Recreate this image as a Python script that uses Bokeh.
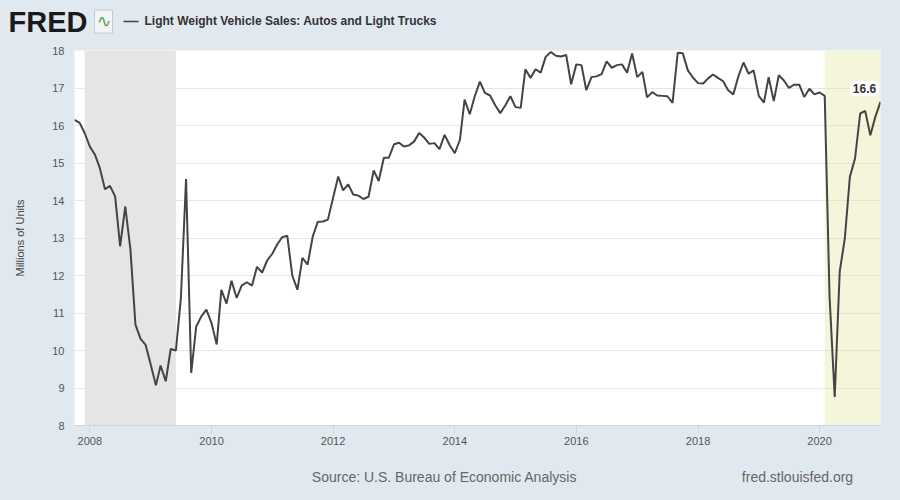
import pandas as pd
from bokeh.plotting import figure
from bokeh.layouts import column
from bokeh.models import (Label, FixedTicker, DatetimeTickFormatter, Range1d,
                          GlobalInlineStyleSheet)
from bokeh.embed import file_html
from bokeh.resources import INLINE

# ---- data ----
start_month = "2007-10-01"
sales = [
    16.15, 16.07, 15.80, 15.44, 15.22, 14.87, 14.30, 14.39, 14.11, 12.78,
    13.84, 12.69, 10.69, 10.31, 10.15, 9.62, 9.07, 9.60, 9.18, 10.04,
    10.00, 11.40, 14.57, 9.40, 10.64, 10.91, 11.09, 10.73, 10.16, 11.62,
    11.25, 11.86, 11.40, 11.73, 11.82, 11.73, 12.23, 12.08, 12.40, 12.58,
    12.84, 13.02, 13.06, 12.00, 11.62, 12.47, 12.29, 13.04, 13.43, 13.44,
    13.49, 14.07, 14.64, 14.27, 14.43, 14.16, 14.13, 14.04, 14.10, 14.80,
    14.52, 15.14, 15.14, 15.50, 15.54, 15.44, 15.47, 15.57, 15.80, 15.68,
    15.51, 15.53, 15.37, 15.75, 15.48, 15.26, 15.62, 16.69, 16.30, 16.78,
    17.17, 16.87, 16.80, 16.54, 16.33, 16.54, 16.78, 16.49, 16.47, 17.50,
    17.27, 17.50, 17.41, 17.83, 17.96, 17.86, 17.84, 17.88, 17.10, 17.63,
    17.61, 16.94, 17.29, 17.31, 17.37, 17.71, 17.54, 17.61, 17.63, 17.41,
    17.92, 17.29, 17.43, 16.75, 16.89, 16.80, 16.79, 16.78, 16.60, 17.94,
    17.93, 17.47, 17.28, 17.13, 17.12, 17.25, 17.36, 17.27, 17.18, 16.94,
    16.83, 17.32, 17.68, 17.38, 17.47, 16.79, 16.61, 17.29, 16.65, 17.34,
    17.20, 17.00, 17.09, 17.09, 16.76, 16.98, 16.83, 16.88, 16.79, 11.44,
    8.76, 12.10, 13.00, 14.63, 15.12, 16.32, 16.39, 15.74, 16.23, 16.63,
]
recession_start = ["2007-12-01"]
recession_end = ["2009-06-01"]
current_start = ["2020-02-01"]
current_end = ["2021-01-01"]
y_ticks = [8, 9, 10, 11, 12, 13, 14, 15, 16, 17, 18]
x_tick_years = [2008, 2010, 2012, 2014, 2016, 2018, 2020]
last_value_text = "16.6"
series_name = "Light Weight Vehicle Sales: Autos and Light Trucks"
y_title = "Millions of Units"
source_text = "Source: U.S. Bureau of Economic Analysis"
site_text = "fred.stlouisfed.org"

dates = pd.date_range(start_month, periods=len(sales), freq="MS")

BG = "#e1e9f0"
W = 900
HEAD_H, MAIN_H, FOOT_H = 40, 410, 50


def blank(h):
    f = figure(width=W, height=h, output_backend="svg", toolbar_location=None,
               x_range=Range1d(0, W), y_range=Range1d(0, h),
               x_axis_location=None, y_axis_location=None,
               min_border=0, min_border_left=0, min_border_right=0,
               min_border_top=0, min_border_bottom=0)
    f.frame_align = False
    f.grid.visible = False
    f.outline_line_color = None
    f.background_fill_color = BG
    f.border_fill_color = BG
    return f


def lab(fig, text, x, y, **kw):
    opts = dict(x_units="screen", y_units="screen", text_font="Liberation Sans",
                text_baseline="middle")
    opts.update(kw)
    fig.add_layout(Label(x=x, y=y, text=text, **opts))


# ---- header ----
head = blank(HEAD_H)
lab(head, "FRED", 8, 19, text_font_size="29px", text_font_style="bold", text_color="#1a1a1a")
lab(head, "\u223f", 94, 19, text_font_size="17px", text_color="#5aa04a",
    background_fill_color="#f2f5f7", border_line_color="#c3ccd4", padding=2)
lab(head, "\u2014", 123, 20, text_font_size="15px", text_color="#444444",
    text_font_style="bold")
lab(head, series_name, 144, 20, text_font_size="12px", text_font_style="bold",
    text_color="#333333")

# ---- main chart ----
p = figure(width=W, height=MAIN_H, output_backend="svg", toolbar_location=None,
           x_axis_type="datetime",
           x_range=Range1d(dates[0], dates[-1]), y_range=Range1d(8, 18),
           min_border_left=74, min_border_right=20, min_border_top=10,
           min_border_bottom=25)
p.frame_align = False
p.stylesheets = [GlobalInlineStyleSheet(css="body{background:%s;}" % BG)]
p.border_fill_color = BG
p.background_fill_color = "white"
p.outline_line_color = None

p.quad(left=pd.to_datetime(recession_start), right=pd.to_datetime(recession_end),
       bottom=y_ticks[0], top=y_ticks[-1], fill_color="#e5e5e5", line_color=None)
p.quad(left=pd.to_datetime(current_start), right=pd.to_datetime(current_end),
       bottom=y_ticks[0], top=y_ticks[-1], fill_color="#e6e6a0", fill_alpha=0.38,
       line_color=None)

p.line(dates, sales, line_color="#444444", line_width=2)

p.xgrid.grid_line_color = None
p.ygrid.grid_line_color = "#e6e6e6"
p.yaxis.ticker = FixedTicker(ticks=y_ticks)
p.yaxis.axis_line_color = None
p.yaxis.major_tick_line_color = None
p.yaxis.minor_tick_line_color = None
p.yaxis.major_label_standoff = 4
p.yaxis.major_label_text_font = "Liberation Sans"
p.yaxis.major_label_text_font_size = "11px"
p.yaxis.major_label_text_color = "#555555"
p.yaxis.axis_label = y_title
p.yaxis.axis_label_standoff = 23
p.yaxis.axis_label_text_font = "Liberation Sans"
p.yaxis.axis_label_text_font_size = "11px"
p.yaxis.axis_label_text_font_style = "normal"
p.yaxis.axis_label_text_color = "#444444"

p.xaxis.ticker = FixedTicker(ticks=[pd.Timestamp(f"{y}-01-01").value / 1e6 for y in x_tick_years])
fmt = "%Y"
p.xaxis.formatter = DatetimeTickFormatter(years=fmt, months=fmt, days=fmt, hours=fmt,
                                          minutes=fmt, seconds=fmt, milliseconds=fmt,
                                          microseconds=fmt, hourmin=fmt, minsec=fmt)
p.xaxis.axis_line_color = "#ccd6eb"
p.xaxis.major_tick_line_color = "#ccd6eb"
p.xaxis.major_tick_in = 0
p.xaxis.major_tick_out = 8
p.xaxis.minor_tick_line_color = None
p.xaxis.major_label_standoff = 3
p.xaxis.major_label_text_font = "Liberation Sans"
p.xaxis.major_label_text_font_size = "11px"
p.xaxis.major_label_text_color = "#555555"

lab(p, last_value_text, 790, 337, text_align="center", text_font_size="12px",
    text_font_style="bold", text_color="#333333", background_fill_color="white",
    padding=3, border_radius=5)

# ---- footer ----
foot = blank(FOOT_H)
lab(foot, source_text, 444, 24, text_align="center", text_font_size="14px",
    text_color="#666666")
lab(foot, site_text, 797, 24, text_align="center", text_font_size="14px",
    text_color="#666666")

layout = column(head, p, foot, spacing=0)
open("out.html", "w").write(file_html(layout, INLINE))
